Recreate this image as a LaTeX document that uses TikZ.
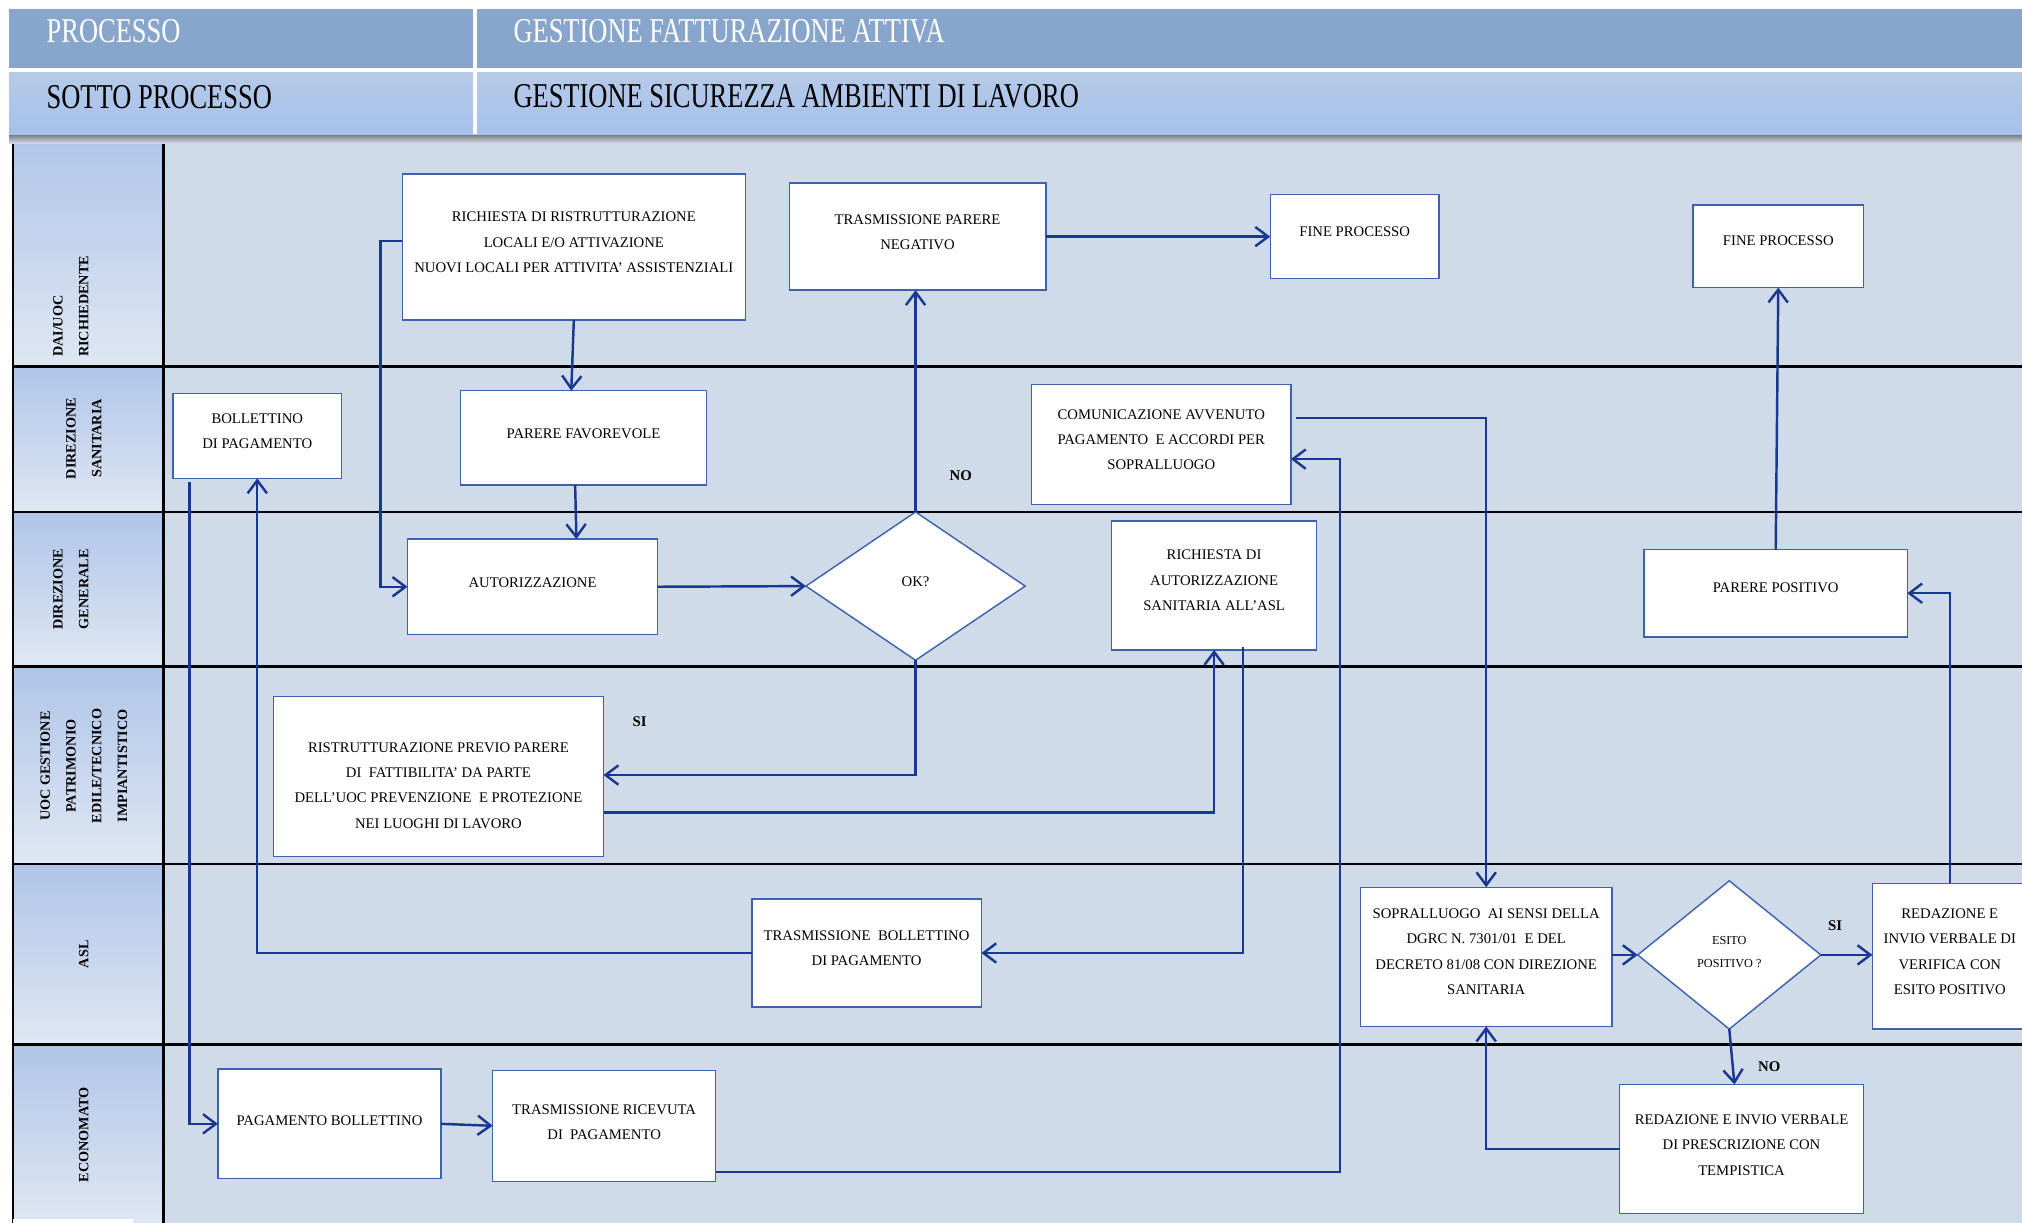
\documentclass[tikz,border=0pt]{standalone}
\usepackage{fontspec}
\setmainfont{Liberation Serif}
\newfontfamily\hdrfont[FakeStretch=0.76]{Liberation Serif}
\usetikzlibrary{arrows.meta,shapes.geometric,calc}
\definecolor{hdrA}{HTML}{88A5CC}
\definecolor{hdrBt}{HTML}{B6CAE8}
\definecolor{hdrBb}{HTML}{A6C1EA}
\definecolor{bodybg}{HTML}{CFDBE9}
\definecolor{lanetop}{HTML}{AFC5E8}
\definecolor{lanebot}{HTML}{DFE7F3}
\definecolor{flowc}{HTML}{1A3890}
\definecolor{boxc}{HTML}{3E61AC}
\begin{document}
\begin{tikzpicture}[x=1pt,y=-1pt,
  box/.style={draw=boxc, line width=1.1pt, fill=white, inner sep=0pt, outer sep=0pt},
  dia/.style={diamond, draw=boxc, line width=1.1pt, fill=white, inner sep=0pt, outer sep=0pt},
  txt/.style={align=center, font=\fontsize{11.4}{19.6}\selectfont, inner sep=0pt, text=black},
  flow/.style={draw=flowc, line width=1.9pt, -{Straight Barb[length=10pt,width=15pt]}},
  lanelbl/.style={rotate=90, align=center, font=\bfseries\fontsize{11}{20}\selectfont, inner sep=0pt},
  dec/.style={font=\bfseries\fontsize{11.5}{13}\selectfont, inner sep=0pt},
  sepline/.style={draw=black, line width=2pt},
  hdr/.style={anchor=west, font=\hdrfont\fontsize{27}{27}\selectfont, inner sep=0pt}
]
\useasboundingbox (0,0) rectangle (1568,948);
\fill[white] (0,0) rectangle (1568,948);
% body
\fill[bodybg] (10,104) rectangle (1568,948);
\foreach \a/\b in {104/284,284/397,397/517,517/670,670/810,810/948}
  \shade[top color=lanetop,bottom color=lanebot] (10,\a) rectangle (127,\b);
\foreach \yy in {284,397,517,670,810}
  \draw[sepline] (10,\yy) -- (1568,\yy);
\draw[sepline] (127,104) -- (127,948);
\draw[black, line width=1pt] (10,104) -- (10,948);
\fill[white] (10,945) rectangle (103,948);
% header
\shade[top color=black!60, bottom color=bodybg] (7,103) rectangle (1568,111);
\fill[hdrA] (7,7) rectangle (1568,53);
\shade[top color=hdrBt,bottom color=hdrBb] (7,56) rectangle (1568,104);
\fill[white] (367,7) rectangle (370,104);
\node[hdr, text=white] (h1) at (36,24) {PROCESSO};
\node[hdr, text=white] (h2) at (398,24) {GESTIONE FATTURAZIONE ATTIVA};
\node[hdr, text=black] (h3) at (36,75) {SOTTO PROCESSO};
\node[hdr, text=black] (h4) at (398,75) {GESTIONE SICUREZZA AMBIENTI DI LAVORO};
% lane labels
\node[lanelbl, anchor=west, align=left] (l1) at (55,277) {DAI/UOC\\RICHIEDENTE};
\node[lanelbl] (l2) at (65,340) {DIREZIONE\\SANITARIA};
\node[lanelbl] (l3) at (55,457) {DIREZIONE\\GENERALE};
\node[lanelbl] (l4) at (65,594) {UOC GESTIONE\\PATRIMONIO\\EDILE/TECNICO\\IMPIANTISTICO};
\node[lanelbl] (l5) at (65,740) {ASL};
\node[lanelbl] (l6) at (65,880) {ECONOMATO};
% boxes
\node[box, minimum width=266pt, minimum height=113pt] (rich) at (445,191.5) {};
\node[box, minimum width=199pt, minimum height=83pt] (tpn) at (711.5,183.5) {};
\node[box, minimum width=131pt, minimum height=65pt] (fp1) at (1050.5,183.5) {};
\node[box, minimum width=132pt, minimum height=64pt] (fp2) at (1379,191) {};
\node[box, minimum width=131pt, minimum height=66pt] (bol) at (199.5,338) {};
\node[box, minimum width=191pt, minimum height=73pt] (pf) at (452.5,339.5) {};
\node[box, minimum width=201pt, minimum height=93pt] (cap) at (900.5,344.5) {};
\node[box, minimum width=194pt, minimum height=74pt] (aut) at (413,455) {};
\node[dia, minimum width=170pt, minimum height=115pt] (ok) at (710,454.5) {};
\node[box, minimum width=159pt, minimum height=100pt] (ras) at (941.5,454) {};
\node[box, minimum width=204pt, minimum height=68pt] (pp) at (1377,460) {};
\node[box, minimum width=256pt, minimum height=124pt] (rpp) at (340,602) {};
\node[box, minimum width=178pt, minimum height=84pt] (tb) at (672,739) {};
\node[box, minimum width=195pt, minimum height=108pt] (sop) at (1152.5,742) {};
\node[dia, minimum width=142pt, minimum height=115pt] (esito) at (1341,740.5) {};
\node[box, minimum width=120pt, minimum height=113pt] (riv) at (1512,741.5) {};
\node[box, minimum width=189pt, minimum height=100pt] (rip) at (1350.5,891) {};
\node[box, minimum width=173pt, minimum height=85pt] (pb) at (255.5,871.5) {};
\node[box, minimum width=173pt, minimum height=86pt] (trp) at (468.5,873) {};
% connectors
\draw[flow] ([yshift=4.5pt]rich.west) -- ++(-17,0) |- (aut.west);
\draw[flow] (rich.south) -- ([xshift=-9.5pt]pf.north);
\draw[flow] ([xshift=-6.5pt]pf.south) -- ([xshift=34pt]aut.north);
\draw[flow] (aut.east) -- (ok.west);
\draw[flow] (ok.north) -- (ok.north |- tpn.south);
\draw[flow] (tpn.east) -- (fp1.west);
\draw[flow] (ok.south) |- ([yshift=1pt]rpp.east);
\draw[flow] ([yshift=-28pt]rpp.east) -| (ras.south);
\draw[flow] ([xshift=22.5pt,yshift=2pt]ras.south) |- (tb.east);
\draw[flow] (tb.west) -| (bol.south);
\draw[flow] ([xshift=-52.5pt,yshift=-3pt]bol.south) |- (pb.west);
\draw[flow] (pb.east) -- (trp.west);
\draw[flow] ([yshift=-36pt]trp.east) -| (1039,356) -- ([yshift=-11.5pt]cap.east);
\draw[flow] ([xshift=4pt,yshift=20.5pt]cap.east) -| (sop.north);
\draw[flow] (sop.east |- esito.west) -- (esito.west);
\draw[flow] (esito.east) -- (riv.west |- esito.east);
\draw[flow] (esito.south) -- ([xshift=-5.5pt]rip.north);
\draw[flow] (rip.west) -| (sop.south);
\draw[flow] (riv.north) |- (pp.east);
\draw[flow] (pp.north) -- (fp2.south);
% texts
\node[txt] (rich-t) at (445,188) {RICHIESTA DI RISTRUTTURAZIONE\\LOCALI E/O ATTIVAZIONE\\NUOVI LOCALI PER ATTIVITA’ ASSISTENZIALI};
\node[txt] (tpn-t) at (711.5,180) {TRASMISSIONE PARERE\\NEGATIVO};
\node[txt] (fp1-t) at (1050.5,180) {FINE PROCESSO};
\node[txt] (fp2-t) at (1379,187) {FINE PROCESSO};
\node[txt] (bol-t) at (199.5,334.5) {BOLLETTINO\\DI PAGAMENTO};
\node[txt] (pf-t) at (452.5,336) {PARERE FAVOREVOLE};
\node[txt] (cap-t) at (900.5,341) {COMUNICAZIONE AVVENUTO\\PAGAMENTO\ \ E ACCORDI PER\\SOPRALLUOGO};
\node[txt] (aut-t) at (413,452) {AUTORIZZAZIONE};
\node[txt] (ok-t) at (710,451) {OK?};
\node[txt] (ras-t) at (941.5,450) {RICHIESTA DI\\AUTORIZZAZIONE\\SANITARIA ALL’ASL};
\node[txt] (pp-t) at (1377,456) {PARERE POSITIVO};
\node[txt] (rpp-t) at (340,609) {RISTRUTTURAZIONE PREVIO PARERE\\DI\ \ FATTIBILITA’ DA PARTE\\DELL’UOC PREVENZIONE\ \ E PROTEZIONE\\NEI LUOGHI DI LAVORO};
\node[txt] (tb-t) at (672,735.5) {TRASMISSIONE\ \ BOLLETTINO\\DI PAGAMENTO};
\node[txt] (sop-t) at (1152.5,738) {SOPRALLUOGO\ \ AI SENSI DELLA\\DGRC N. 7301/01\ \ E DEL\\DECRETO 81/08 CON DIREZIONE\\SANITARIA};
\node[txt, font=\fontsize{9.5}{18}\selectfont] (esito-t) at (1341,738) {ESITO\\POSITIVO ?};
\node[txt] (riv-t) at (1512,738) {REDAZIONE E\\INVIO VERBALE DI\\VERIFICA CON\\ESITO POSITIVO};
\node[txt] (rip-t) at (1350.5,888) {REDAZIONE E INVIO VERBALE\\DI PRESCRIZIONE CON\\TEMPISTICA};
\node[txt] (pb-t) at (255.5,869) {PAGAMENTO BOLLETTINO};
\node[txt] (trp-t) at (468.5,870) {TRASMISSIONE RICEVUTA\\DI\ \ PAGAMENTO};
% decision labels
\node[dec] (no1) at (745,369) {NO};
\node[dec] (si1) at (496,560) {SI};
\node[dec] (si2) at (1423,718) {SI};
\node[dec] (no2) at (1372,827) {NO};
\end{tikzpicture}
\end{document}
